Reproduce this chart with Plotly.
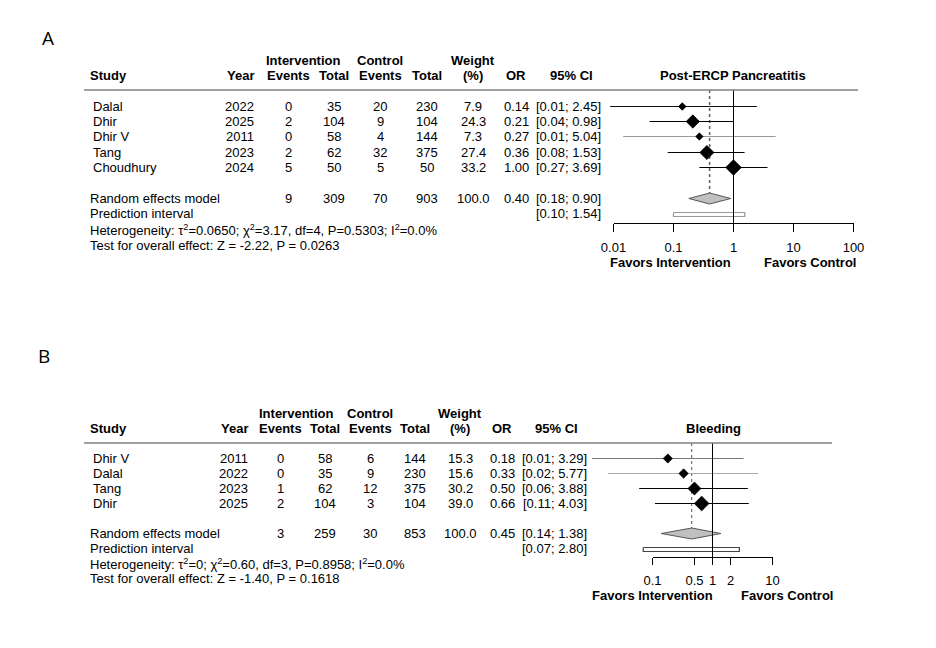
import math
import plotly.graph_objects as go

# ---------------- data ----------------
# Panel A: Post-ERCP Pancreatitis
A_title = "Post-ERCP Pancreatitis"
A_study = ["Dalal", "Dhir", "Dhir V", "Tang", "Choudhury"]
A_year = [2022, 2025, 2011, 2023, 2024]
A_ev_i = [0, 2, 0, 2, 5]
A_tot_i = [35, 104, 58, 62, 50]
A_ev_c = [20, 9, 4, 32, 5]
A_tot_c = [230, 104, 144, 375, 50]
A_weight = [7.9, 24.3, 7.3, 27.4, 33.2]
A_or = [0.14, 0.21, 0.27, 0.36, 1.00]
A_lo = [0.0088, 0.04, 0.0145, 0.08, 0.27]
A_hi = [2.45, 0.98, 5.04, 1.53, 3.69]
A_re_counts = [9, 309, 70, 903]
A_re_weight = 100.0
A_re_or = 0.40
A_re_lo = 0.18
A_re_hi = 0.90
A_pi_lo = 0.10
A_pi_hi = 1.54
A_het = "Heterogeneity: τ<sup>2</sup>=0.0650; χ<sup>2</sup>=3.17, df=4, P=0.5303; I<sup>2</sup>=0.0%"
A_test = "Test for overall effect: Z = -2.22, P = 0.0263"
A_ticks = [0.01, 0.1, 1, 10, 100]
A_ticklabels = ["0.01", "0.1", "1", "10", "100"]

# Panel B: Bleeding
B_title = "Bleeding"
B_study = ["Dhir V", "Dalal", "Tang", "Dhir"]
B_year = [2011, 2022, 2023, 2025]
B_ev_i = [0, 0, 1, 2]
B_tot_i = [58, 35, 62, 104]
B_ev_c = [6, 9, 12, 3]
B_tot_c = [144, 230, 375, 104]
B_weight = [15.3, 15.6, 30.2, 39.0]
B_or = [0.18, 0.33, 0.50, 0.66]
B_lo = [0.0098, 0.018, 0.06, 0.11]
B_hi = [3.29, 5.77, 3.88, 4.03]
B_re_counts = [3, 259, 30, 853]
B_re_weight = 100.0
B_re_or = 0.45
B_re_lo = 0.14
B_re_hi = 1.38
B_pi_lo = 0.07
B_pi_hi = 2.80
B_het = "Heterogeneity: τ<sup>2</sup>=0; χ<sup>2</sup>=0.60, df=3, P=0.8958; I<sup>2</sup>=0.0%"
B_test = "Test for overall effect: Z = -1.40, P = 0.1618"
B_ticks = [0.1, 0.5, 1, 2, 10]
B_ticklabels = ["0.1", "0.5", "1", "2", "10"]

fav_left = "Favors Intervention"
fav_right = "Favors Control"

# ---------------- layout / style ----------------
W, H = 936, 648
FONT = "Liberation Sans, Arial, Helvetica, sans-serif"
FS = 13

panels = [
    dict(label="A", label_xy=(48, 38),
         title=A_title, study=A_study, year=A_year, ev_i=A_ev_i, tot_i=A_tot_i,
         ev_c=A_ev_c, tot_c=A_tot_c, weight=A_weight, orr=A_or, lo=A_lo, hi=A_hi,
         re_counts=A_re_counts, re_w=A_re_weight, re_or=A_re_or, re_lo=A_re_lo,
         re_hi=A_re_hi, pi_lo=A_pi_lo, pi_hi=A_pi_hi, het=A_het, test=A_test,
         ticks=A_ticks, ticklabels=A_ticklabels,
         # pixel geometry
         hdr1=60, hdr2=75, rule=90, rule_x=(84, 858), row0=106, dy=15.4,
         re_y=198.5, pi_y=214.5, het_y=229.5, test_y=245,
         cols=dict(study=91, year=256, ev_i=288, tot_i=334, ev_c=380, tot_c=427,
                   weight=473, orr=516, ci=603),
         hdr=dict(interv=303, control=380, weight=473, ci=571, title=733),
         center=733.5, ppd=60.0, axis_y=223, ticklen=8, xrange=(0.01, 100),
         fav_x=(670, 810), fav_y=262,
         line_cols=["#111111", "#000000", "#999999", "#000000", "#000000"],
         kdiam=2.7, pi_line="#999999", dot_col="#666666", dot_w=1.6),
    dict(label="B", label_xy=(44, 356),
         title=B_title, study=B_study, year=B_year, ev_i=B_ev_i, tot_i=B_tot_i,
         ev_c=B_ev_c, tot_c=B_tot_c, weight=B_weight, orr=B_or, lo=B_lo, hi=B_hi,
         re_counts=B_re_counts, re_w=B_re_weight, re_or=B_re_or, re_lo=B_re_lo,
         re_hi=B_re_hi, pi_lo=B_pi_lo, pi_hi=B_pi_hi, het=B_het, test=B_test,
         ticks=B_ticks, ticklabels=B_ticklabels,
         hdr1=413, hdr2=428, rule=443, rule_x=(84, 832), row0=458, dy=15.0,
         re_y=533.5, pi_y=549, het_y=563.5, test_y=578,
         cols=dict(study=91, year=250, ev_i=280, tot_i=325, ev_c=370, tot_c=415,
                   weight=460, orr=502, ci=589),
         hdr=dict(interv=296, control=370, weight=460, ci=556, title=713),
         center=712.5, ppd=60.0, axis_y=557, ticklen=7, xrange=(0.1, 10),
         fav_x=(652, 787), fav_y=595,
         line_cols=["#777777", "#aaaaaa", "#000000", "#000000"],
         kdiam=2.35, pi_line="#444444", dot_col="#555555", dot_w=1.0),
]

fig = go.Figure()
annotations = []
shapes = []


def txt(x, y, s, anchor="center", bold=False, size=FS, family=FONT):
    annotations.append(dict(
        x=x, y=y, xref="x", yref="y", text=("<b>%s</b>" % s) if bold else s,
        showarrow=False, xanchor=anchor, yanchor="middle",
        font=dict(family=family, size=size, color="black")))


layout_axes = {}
axis_idx = 2
for p in panels:
    c = p["cols"]
    h = p["hdr"]
    # panel label
    txt(p["label_xy"][0], p["label_xy"][1], p["label"], size=19,
        family="Open Sans, Noto Sans, sans-serif")
    # header
    txt(h["interv"], p["hdr1"], "Intervention", bold=True)
    txt(h["control"], p["hdr1"], "Control", bold=True)
    txt(h["weight"], p["hdr1"], "Weight", bold=True)
    txt(88, p["hdr2"], "Study", anchor="left", bold=True)
    txt(c["year"], p["hdr2"], "Year", anchor="right", bold=True)
    txt(c["ev_i"], p["hdr2"], "Events", bold=True)
    txt(c["tot_i"], p["hdr2"], "Total", bold=True)
    txt(c["ev_c"], p["hdr2"], "Events", bold=True)
    txt(c["tot_c"], p["hdr2"], "Total", bold=True)
    txt(h["weight"], p["hdr2"], "(%)", bold=True)
    txt(c["orr"], p["hdr2"], "OR", bold=True)
    txt(h["ci"], p["hdr2"], "95% CI", bold=True)
    txt(h["title"], p["hdr2"], p["title"], bold=True)
    shapes.append(dict(type="line", xref="x", yref="y", x0=p["rule_x"][0],
                       x1=p["rule_x"][1], y0=p["rule"], y1=p["rule"],
                       line=dict(color="#808080", width=1.5)))

    n = len(p["study"])
    # row centres snapped to half pixels so that 1px lines are crisp
    ys = [math.floor(p["row0"] + i * p["dy"]) + 0.5 for i in range(n)]
    for i in range(n):
        y = ys[i]
        txt(c["study"], y, p["study"][i], anchor="left")
        txt(c["year"], y, str(p["year"][i]), anchor="right")
        txt(c["ev_i"], y, str(p["ev_i"][i]))
        txt(c["tot_i"], y, str(p["tot_i"][i]))
        txt(c["ev_c"], y, str(p["ev_c"][i]))
        txt(c["tot_c"], y, str(p["tot_c"][i]))
        txt(c["weight"], y, "%.1f" % p["weight"][i])
        txt(c["orr"], y, "%.2f" % p["orr"][i])
        txt(c["ci"], y, "[%.2f; %.2f]" % (p["lo"][i], p["hi"][i]), anchor="right")
    # summary rows
    ry = p["re_y"]
    txt(88, ry, "Random effects model", anchor="left")
    rc = p["re_counts"]
    txt(c["ev_i"], ry, str(rc[0]))
    txt(c["tot_i"], ry, str(rc[1]))
    txt(c["ev_c"], ry, str(rc[2]))
    txt(c["tot_c"], ry, str(rc[3]))
    txt(c["weight"], ry, "%.1f" % p["re_w"])
    txt(c["orr"], ry, "%.2f" % p["re_or"])
    txt(c["ci"], ry, "[%.2f; %.2f]" % (p["re_lo"], p["re_hi"]), anchor="right")
    txt(88, p["pi_y"] - 1, "Prediction interval", anchor="left")
    txt(c["ci"], p["pi_y"] - 1, "[%.2f; %.2f]" % (p["pi_lo"], p["pi_hi"]), anchor="right")
    txt(88, p["het_y"], p["het"], anchor="left")
    txt(88, p["test_y"], p["test"], anchor="left")
    # favors labels
    txt(p["fav_x"][0], p["fav_y"], fav_left, bold=True)
    txt(p["fav_x"][1], p["fav_y"], fav_right, bold=True)

    # ---- axes for this panel ----
    vis = "x%d" % axis_idx          # visible tick axis
    dat = "x%d" % (axis_idx + 1)    # hidden wide data axis
    cen, ppd = p["center"], p["ppd"]
    lo_px = cen + ppd * math.log10(p["xrange"][0])
    hi_px = cen + ppd * math.log10(p["xrange"][1])
    d0, d1 = 540.0, 910.0
    layout_axes["xaxis%d" % axis_idx] = dict(
        type="log", range=[math.log10(p["xrange"][0]), math.log10(p["xrange"][1])],
        domain=[lo_px / W, hi_px / W], anchor="free", position=1 - p["axis_y"] / H,
        showline=True, linecolor="black", linewidth=1, ticks="outside",
        ticklen=p["ticklen"], tickwidth=1, tickcolor="black",
        tickvals=p["ticks"], ticktext=p["ticklabels"], showgrid=False,
        zeroline=False, fixedrange=True, ticklabelstandoff=4, automargin=False,
        tickfont=dict(family=FONT, size=FS, color="black"))
    layout_axes["xaxis%d" % (axis_idx + 1)] = dict(
        type="log", range=[(d0 - cen) / ppd, (d1 - cen) / ppd],
        domain=[d0 / W, d1 / W], anchor="y", visible=False, fixedrange=True,
        automargin=False)
    axis_idx += 2

    # dummy trace to materialise the visible axis
    fig.add_trace(go.Scatter(x=[1], y=[-100], xaxis=vis, yaxis="y", mode="markers",
                             marker=dict(opacity=0), showlegend=False, hoverinfo="skip"))

    # prediction interval (rectangle)
    ph = 2.0
    py = ry + 16
    fig.add_trace(go.Scatter(
        x=[p["pi_lo"], p["pi_hi"], p["pi_hi"], p["pi_lo"], p["pi_lo"]],
        y=[py - ph, py - ph, py + ph, py + ph, py - ph],
        xaxis=dat, yaxis="y", mode="lines", fill="toself", fillcolor="white",
        line=dict(color=p["pi_line"], width=1.2), showlegend=False, hoverinfo="skip"))
    # dotted random-effects line
    fig.add_trace(go.Scatter(
        x=[p["re_or"], p["re_or"]], y=[p["rule"], ry], xaxis=dat, yaxis="y",
        mode="lines", line=dict(color=p["dot_col"], width=p["dot_w"], dash="dot"),
        showlegend=False, hoverinfo="skip"))
    # summary diamond
    dh = 5.5
    fig.add_trace(go.Scatter(
        x=[p["re_lo"], p["re_or"], p["re_hi"], p["re_or"], p["re_lo"]],
        y=[ry, ry - dh, ry, ry + dh, ry], xaxis=dat, yaxis="y",
        mode="lines", fill="toself", fillcolor="#c0c0c0",
        line=dict(color="#555555", width=1), showlegend=False, hoverinfo="skip"))
    # CI lines
    for i in range(n):
        fig.add_trace(go.Scatter(
            x=[p["lo"][i], p["hi"][i]], y=[ys[i], ys[i]], xaxis=dat, yaxis="y",
            mode="lines", line=dict(color=p["line_cols"][i], width=1),
            showlegend=False, hoverinfo="skip"))
    # null line at OR = 1
    fig.add_trace(go.Scatter(
        x=[1, 1], y=[p["rule"], p["axis_y"]], xaxis=dat, yaxis="y",
        mode="lines", line=dict(color="#000000", width=1),
        showlegend=False, hoverinfo="skip"))
    # study point estimates (size ~ sqrt(weight))
    sizes = [p["kdiam"] * math.sqrt(w) / 1.3 for w in p["weight"]]
    fig.add_trace(go.Scatter(
        x=p["orr"], y=ys, xaxis=dat, yaxis="y", mode="markers",
        marker=dict(symbol="diamond", size=sizes, color="#000000", opacity=1,
                    line=dict(width=0.8, color="#000000")),
        showlegend=False, hoverinfo="skip"))

fig.update_layout(
    width=W, height=H, autosize=False,
    margin=dict(l=0, r=0, t=0, b=0, pad=0, autoexpand=False),
    paper_bgcolor="white", plot_bgcolor="rgba(0,0,0,0)",
    xaxis=dict(range=[0, W], domain=[0, 1], visible=False, fixedrange=True,
               automargin=False),
    yaxis=dict(range=[H, 0], domain=[0, 1], visible=False, fixedrange=True,
               automargin=False),
    annotations=annotations, shapes=shapes, showlegend=False,
    font=dict(family=FONT, size=FS, color="black"),
    **layout_axes)

fig.write_html("out.html", post_script="document.body.style.margin='0';",
               config={"displayModeBar": False, "staticPlot": True})
